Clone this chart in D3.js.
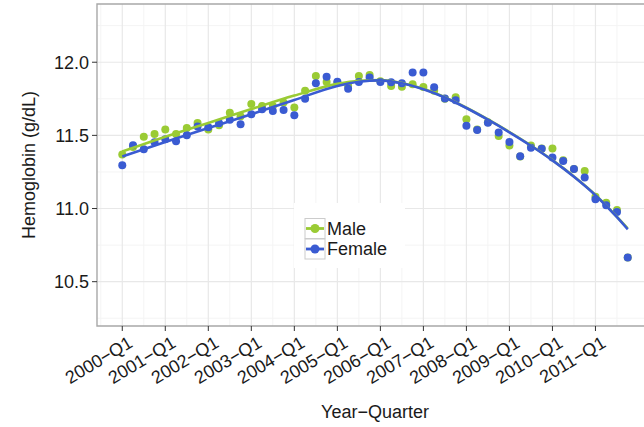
<!DOCTYPE html>
<html>
<head>
<meta charset="utf-8">
<script src="https://cdn.jsdelivr.net/npm/d3@7"></script>
<style>
  body { margin: 0; background: #fff; }
  text { font-family: "Liberation Sans", Arial, sans-serif; fill: #1a1a1a; }
</style>
</head>
<body>
<svg width="644" height="427"></svg>
<script>
var svg = d3.select("svg"),
    width = +svg.attr("width"),
    height = +svg.attr("height");

// quarters 2000-Q1 .. 2011-Q4
var quarters = [
  "2000-Q1","2000-Q2","2000-Q3","2000-Q4","2001-Q1","2001-Q2","2001-Q3","2001-Q4",
  "2002-Q1","2002-Q2","2002-Q3","2002-Q4","2003-Q1","2003-Q2","2003-Q3","2003-Q4",
  "2004-Q1","2004-Q2","2004-Q3","2004-Q4","2005-Q1","2005-Q2","2005-Q3","2005-Q4",
  "2006-Q1","2006-Q2","2006-Q3","2006-Q4","2007-Q1","2007-Q2","2007-Q3","2007-Q4",
  "2008-Q1","2008-Q2","2008-Q3","2008-Q4","2009-Q1","2009-Q2","2009-Q3","2009-Q4",
  "2010-Q1","2010-Q2","2010-Q3","2010-Q4","2011-Q1","2011-Q2","2011-Q3","2011-Q4"];

var tickLabels = ["2000-Q1","2001-Q1","2002-Q1","2003-Q1","2004-Q1","2005-Q1",
                  "2006-Q1","2007-Q1","2008-Q1","2009-Q1","2010-Q1","2011-Q1"];
var yTicks = [10.5, 11.0, 11.5, 12.0];

var male = [11.37,11.42,11.49,11.51,11.54,11.51,11.55,11.585,
            11.54,11.57,11.655,11.63,11.715,11.70,11.70,11.725,
            11.69,11.805,11.905,11.865,11.86,11.84,11.905,11.913,
            11.87,11.838,11.833,11.85,11.83,11.805,11.75,11.76,
            11.61,11.54,11.59,11.495,11.43,11.355,11.43,11.41,
            11.41,11.33,11.27,11.257,11.08,11.04,10.99,10.665];

var female = [11.295,11.433,11.405,11.453,11.474,11.46,11.50,11.56,
              11.556,11.583,11.606,11.576,11.644,11.679,11.667,11.674,
              11.637,11.75,11.856,11.90,11.867,11.818,11.865,11.895,
              11.865,11.863,11.856,11.93,11.93,11.829,11.752,11.74,
              11.565,11.537,11.587,11.52,11.455,11.358,11.416,11.408,
              11.348,11.325,11.27,11.212,11.064,11.022,10.977,10.665];

// smoothed trend
var smoothAt = [0,4,8,12,16,20,22,24,26,28,30,32,34,36,38,40,42,44,46,47];
var maleSmooth = [11.39,11.49,11.585,11.68,11.772,11.852,11.873,11.878,11.858,11.818,
                  11.761,11.689,11.609,11.523,11.431,11.331,11.219,11.093,10.943,10.864];
var femaleSmooth = [11.355,11.455,11.55,11.645,11.742,11.838,11.867,11.876,11.856,11.816,
                    11.759,11.687,11.607,11.521,11.429,11.329,11.217,11.091,10.941,10.858];

var green = "#9acb34", blue = "#3a5bd2";

var x = d3.scaleLinear().domain([-2.35, quarters.length - 1 + 2.35]).range([97, 653]);
var y = d3.scaleLinear().domain([10.197, 12.398]).range([326, 4]);

var g = svg.append("g");

// grid
var minorX = d3.range(-2, quarters.length + 2, 4);
var majorX = tickLabels.map(function(t) { return quarters.indexOf(t); });
var minorY = [10.25, 10.75, 11.25, 11.75, 12.25];

g.selectAll(".gx-minor").data(minorX).enter().append("line")
    .attr("x1", function(d) { return x(d); }).attr("x2", function(d) { return x(d); })
    .attr("y1", 4).attr("y2", 326)
    .style("stroke", "#f4f4f4").style("stroke-width", 1);
g.selectAll(".gy-minor").data(minorY).enter().append("line")
    .attr("y1", function(d) { return y(d); }).attr("y2", function(d) { return y(d); })
    .attr("x1", 97).attr("x2", width)
    .style("stroke", "#f4f4f4").style("stroke-width", 1);
g.selectAll(".gx").data(majorX).enter().append("line")
    .attr("x1", function(d) { return x(d); }).attr("x2", function(d) { return x(d); })
    .attr("y1", 4).attr("y2", 326)
    .style("stroke", "#e8e8e8").style("stroke-width", 1.2);
g.selectAll(".gy").data(yTicks).enter().append("line")
    .attr("y1", function(d) { return y(d); }).attr("y2", function(d) { return y(d); })
    .attr("x1", 97).attr("x2", width)
    .style("stroke", "#e8e8e8").style("stroke-width", 1.2);

// points
function dots(vals, color) {
  g.append("g").selectAll("circle")
    .data(vals)
    .enter().append("circle")
      .attr("cx", function(d, i) { return x(i); })
      .attr("cy", function(d) { return y(d); })
      .attr("r", 4)
      .attr("fill", color);
}
dots(male, green);
dots(female, blue);

// smooth lines
function smooth(vals, color) {
  var line = d3.line()
      .x(function(d, i) { return x(smoothAt[i]); })
      .y(function(d) { return y(d); })
      .curve(d3.curveMonotoneX);
  g.append("path")
    .datum(vals)
    .attr("d", line)
    .attr("fill", "none")
    .attr("stroke", color)
    .attr("stroke-width", 2.6);
}
smooth(maleSmooth, green);
smooth(femaleSmooth, blue);

// panel border
svg.append("path")
    .attr("d", "M" + width + ",4H97V326H" + width)
    .attr("fill", "none")
    .attr("stroke", "#a8a8a8")
    .attr("stroke-width", 1.4);

// y axis
var ya = svg.append("g");
ya.selectAll("line").data(yTicks).enter().append("line")
    .attr("x1", 92).attr("x2", 97)
    .attr("y1", function(d) { return y(d); }).attr("y2", function(d) { return y(d); })
    .style("stroke", "#333");
ya.selectAll("text").data(yTicks).enter().append("text")
    .attr("x", 89).attr("y", function(d) { return y(d); })
    .attr("dy", "0.36em")
    .attr("text-anchor", "end")
    .style("font-size", "18px")
    .text(function(d) { return d3.format(".1f")(d); });

// x axis
var xa = svg.append("g");
xa.selectAll("line").data(majorX).enter().append("line")
    .attr("x1", function(d) { return x(d); }).attr("x2", function(d) { return x(d); })
    .attr("y1", 326).attr("y2", 331)
    .style("stroke", "#333");
xa.selectAll("text").data(tickLabels).enter().append("text")
    .attr("transform", function(d) { return "translate(" + (x(quarters.indexOf(d)) + 5) + ",335) rotate(-31)"; })
    .attr("dy", "0.72em")
    .attr("text-anchor", "end")
    .style("font-size", "18px")
    .text(function(d) { return d.replace("-", "\u2212"); });

// titles
svg.append("text")
    .attr("x", 375).attr("y", 418)
    .attr("text-anchor", "middle")
    .style("font-size", "18px")
    .text("Year\u2212Quarter");
svg.append("text")
    .attr("transform", "translate(35,165) rotate(-90)")
    .attr("text-anchor", "middle")
    .style("font-size", "18px")
    .text("Hemoglobin (g/dL)");

// legend
var legend = svg.append("g");
legend.append("rect")
    .attr("x", 294).attr("y", 203).attr("width", 111).attr("height", 65)
    .attr("fill", "#fff");
var keys = [{name: "Male", color: green}, {name: "Female", color: blue}];
var item = legend.selectAll(".key").data(keys).enter().append("g")
    .attr("transform", function(d, i) { return "translate(305," + (218.5 + i * 20.5) + ")"; });
item.append("rect")
    .attr("width", 20).attr("height", 20)
    .attr("fill", "#fff").attr("stroke", "#ccc");
item.append("line")
    .attr("x1", 1).attr("x2", 19).attr("y1", 10).attr("y2", 10)
    .attr("stroke", function(d) { return d.color; }).attr("stroke-width", 2.8);
item.append("circle")
    .attr("cx", 10).attr("cy", 10).attr("r", 4.5)
    .attr("fill", function(d) { return d.color; });
item.append("text")
    .attr("x", 22).attr("y", 10).attr("dy", "0.36em")
    .style("font-size", "18px")
    .text(function(d) { return d.name; });
</script>
</body>
</html>
